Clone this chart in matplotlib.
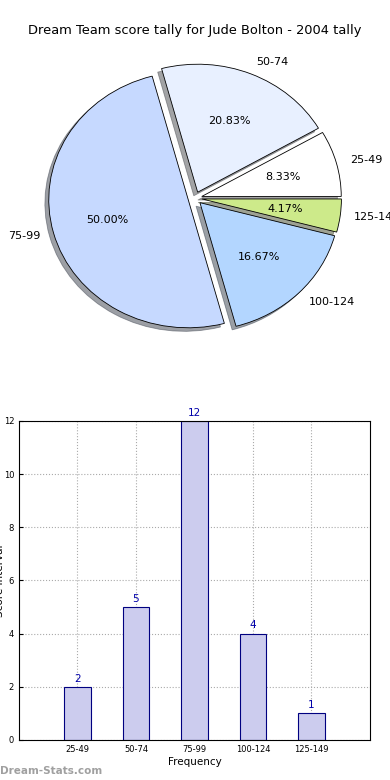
import matplotlib
matplotlib.use("Agg")
import matplotlib.pyplot as plt
import numpy as np

bands = ["25-49", "50-74", "75-99", "100-124", "125-149"]
counts = [2, 5, 12, 4, 1]
slice_colors = ["#ffffff", "#e8f0ff", "#c6d9ff", "#b3d6ff", "#cdea8a"]
title = "Dream Team score tally for Jude Bolton - 2004 tally"


def main():
    fig = plt.figure(figsize=(3.9, 7.8), dpi=100)
    fig.patch.set_facecolor("white")

    # pie on top (slightly squashed, like the original)
    pie_ax = fig.add_axes([0, 0.496, 1, 0.5])
    pie_ax.pie(counts, labels=bands, colors=slice_colors, explode=[0.05] * len(counts),
               autopct="%1.2f%%", shadow=True, startangle=0, counterclock=True,
               wedgeprops={"edgecolor": "black", "linewidth": 0.6},
               textprops={"fontsize": 8})
    pie_ax.set_aspect("auto")
    pie_ax.set_xlim(-195 / 139.5, 195 / 139.5)
    pie_ax.set_ylim(-195 / 128.0, 195 / 128.0)
    pie_ax.axis("off")
    fig.text(0.5, 0.961, title, ha="center", va="center", fontsize=9.4)

    # bar chart below
    bar_ax = fig.add_axes([0.0487, 0.0513, 0.9, 0.409])
    x = np.arange(len(bands))
    bar_ax.bar(x, counts, width=0.45, color="#ccccee", edgecolor="#000080", linewidth=0.8)
    for xi, c in zip(x, counts):
        bar_ax.text(xi, c + 0.12, str(c), ha="center", va="bottom", color="#0000aa", fontsize=7.5)
    bar_ax.set_xlim(-1, 5)
    bar_ax.set_ylim(0, 12)
    bar_ax.set_xticks(x)
    bar_ax.set_xticklabels(bands, fontsize=6)
    bar_ax.set_yticks(range(0, 13, 2))
    bar_ax.tick_params(axis="y", labelsize=6, direction="in", length=3)
    bar_ax.tick_params(axis="x", direction="in", length=3)
    bar_ax.grid(True, linestyle=":", color="#aaaaaa", linewidth=0.8)
    bar_ax.set_axisbelow(True)
    bar_ax.set_xlabel("Frequency", fontsize=7.5, labelpad=2)
    fig.text(0.0, 0.255, "Score Interval", rotation=90, ha="center", va="center", fontsize=7.5)

    fig.text(0.0, 0.012, "Dream-Stats.com", ha="left", va="center", fontsize=7.5,
             color="#a0a0a0", fontweight="bold")

    fig.savefig("out.png", dpi=100)


if __name__ == '__main__':
    main()
